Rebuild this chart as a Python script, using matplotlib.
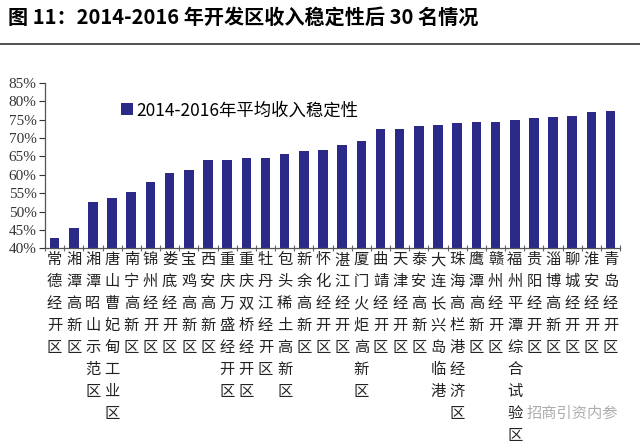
import matplotlib
matplotlib.use('Agg')
import matplotlib.pyplot as plt
from matplotlib.lines import Line2D
import numpy as np

plt.rcParams['font.family'] = ['Noto Sans CJK SC', 'DejaVu Sans']

# data
zones = ['常德经开区', '湘潭高新区', '湘潭昭山示范区', '唐山曹妃甸工业区', '南宁高新区',
         '锦州经开区', '娄底经开区', '宝鸡高新区', '西安高新区', '重庆万盛经开区',
         '重庆双桥经开区', '牡丹江经开区', '包头稀土高新区', '新余高新区', '怀化经开区',
         '湛江经开区', '厦门火炬高新区', '曲靖经开区', '天津经开区', '泰安高新区',
         '大连长兴岛临港', '珠海高栏港经济区', '鹰潭高新区', '赣州经开区', '福州平潭综合试验区',
         '贵阳经开区', '淄博高新区', '聊城经开区', '淮安经开区', '青岛经开区']
stability = [42.9, 45.6, 52.6, 53.7, 55.2, 58.1, 60.5, 61.2, 64.0, 64.0,
             64.6, 64.6, 65.6, 66.4, 66.7, 68.0, 69.2, 72.5, 72.5, 73.2,
             73.6, 74.0, 74.3, 74.3, 74.9, 75.3, 75.6, 75.9, 77.0, 77.4]
yticks = [40, 45, 50, 55, 60, 65, 70, 75, 80, 85]
legend_label = '2014-2016年平均收入稳定性'
title = '图 11：2014-2016 年开发区收入稳定性后 30 名情况'

bar_color = '#2b2a88'

fig = plt.figure(figsize=(6.4, 4.43), dpi=100)
ax = fig.add_axes([0.0703, 0.4395, 0.8987, 0.3738])

x = np.arange(len(zones))
ax.bar(x, [v - 40 for v in stability], bottom=40, width=0.5, color=bar_color,
       label=legend_label)

ax.set_xlim(-0.5, len(zones) - 0.5)
ax.set_ylim(40, 85)
ax.set_yticks(yticks)
ax.set_yticklabels([f'{t}%' for t in yticks], family='Liberation Serif', fontsize=11)
ax.tick_params(axis='y', direction='out', length=4, width=0.8, pad=2, colors='#333333')

ax.set_xticks(x)
ax.set_xticklabels(['\n'.join(z) for z in zones], fontsize=11, linespacing=1.38,
                   color='#222222', va='top')
ax.tick_params(axis='x', length=0, pad=2)
ax.set_xticks(np.arange(-0.5, len(zones)), minor=True)
ax.tick_params(axis='x', which='minor', direction='inout', length=5, width=0.8,
               colors='#666666')

for s in ['top', 'right']:
    ax.spines[s].set_visible(False)
for s in ['left', 'bottom']:
    ax.spines[s].set_color('#555555')
    ax.spines[s].set_linewidth(0.9)

ax.legend(loc='upper left', bbox_to_anchor=(0.12, 0.93), frameon=False,
          fontsize=12.5, handlelength=0.7, handleheight=0.7, handletextpad=0.2,
          borderaxespad=0)

fig.text(0.012, 0.962, title, fontsize=14.5, fontweight='bold', va='center', ha='left')
fig.add_artist(Line2D([0, 1], [0.9007, 0.9007], color='#333333', linewidth=1.2))

fig.text(0.965, 0.068, '招商引资内参', fontsize=11, color='#999999', ha='right',
         va='center', alpha=0.8)

fig.savefig('out.png', dpi=100)
